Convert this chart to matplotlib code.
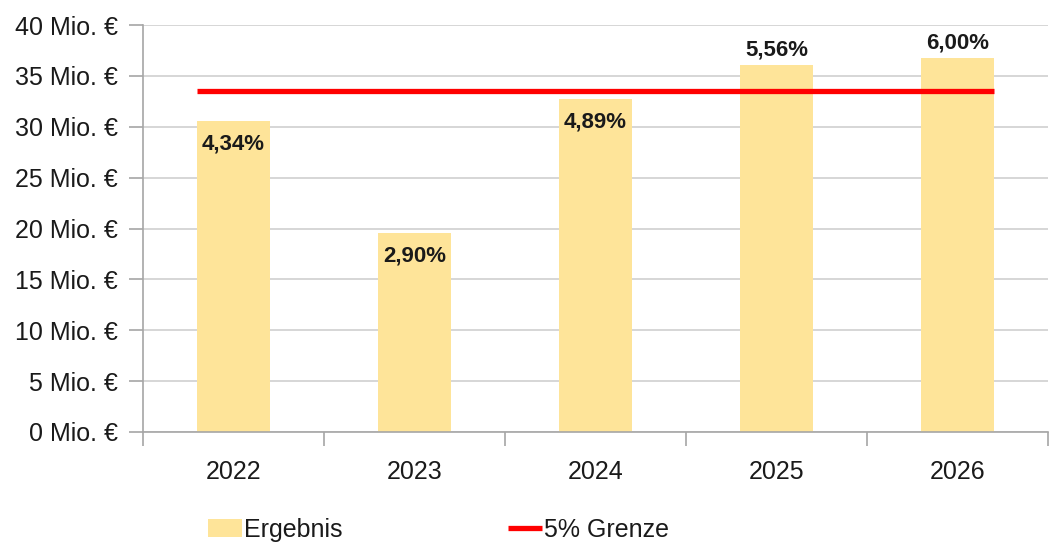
import matplotlib
matplotlib.use("Agg")
import matplotlib.pyplot as plt
from matplotlib import font_manager
import numpy as np

years = ["2022", "2023", "2024", "2025", "2026"]
ergebnis = [30.6, 19.6, 32.7, 36.1, 36.8]  # Mio. €
quoten = ["4,34%", "2,90%", "4,89%", "5,56%", "6,00%"]
label_inside = [True, True, True, False, False]
grenze = 33.5
yticks = [0, 5, 10, 15, 20, 25, 30, 35, 40]

installed = {f.name for f in font_manager.fontManager.ttflist}
narrow = "Liberation Sans Narrow" if "Liberation Sans Narrow" in installed else "Liberation Sans"

plt.rcParams["font.family"] = ["Liberation Sans", "DejaVu Sans"]
txt = "#1a1a1a"
grau = "#a6a6a6"

fig = plt.figure(figsize=(10.62, 5.46), dpi=100)
ax = fig.add_axes([0.1347, 0.2088, 0.8523, 0.7454])

x = np.arange(len(years))
bars = ax.bar(x, ergebnis, width=0.4, color="#fee499", zorder=2, label="Ergebnis")
line, = ax.plot([x[0] - 0.2, x[-1] + 0.2], [grenze, grenze], color="#ff0000", lw=3.8,
                zorder=3, solid_capstyle="butt", label="5% Grenze")

for xi, v, q, inside in zip(x, ergebnis, quoten, label_inside):
    if inside:
        ax.annotate(q, (xi, v), xytext=(0, -9), textcoords="offset points",
                    ha="center", va="top", fontsize=16, fontweight="bold",
                    family=[narrow, "DejaVu Sans"], color=txt, zorder=4)
    else:
        ax.annotate(q, (xi, v), xytext=(0, 3), textcoords="offset points",
                    ha="center", va="bottom", fontsize=16, fontweight="bold",
                    family=[narrow, "DejaVu Sans"], color=txt, zorder=4)

ax.set_xlim(-0.5, len(years) - 0.5)
ax.set_ylim(0, 40)
ax.set_yticks(yticks)
ax.set_yticklabels([f"{t} Mio. €" for t in yticks], fontsize=18, color=txt)
ax.yaxis.grid(True, color="#cfcfcf", lw=1.2, zorder=0)
ax.set_axisbelow(True)

ax.set_xticks(x)
ax.set_xticklabels(years, fontsize=18, color=txt)
ax.tick_params(axis="x", length=0, pad=20)
ax.set_xticks(np.arange(-0.5, len(years)), minor=True)
ax.tick_params(axis="x", which="minor", length=10, color=grau, width=1.2)
ax.tick_params(axis="y", length=10, color=grau, width=1.2, pad=8)

for s in ["top", "right"]:
    ax.spines[s].set_visible(False)
for s in ["left", "bottom"]:
    ax.spines[s].set_color(grau)
    ax.spines[s].set_linewidth(1.2)

fig.legend([bars, line], ["Ergebnis", "5% Grenze"], loc="center left",
           bbox_to_anchor=(0.196, 0.03), ncol=2, frameon=False,
           fontsize=18, handlelength=1.35, handletextpad=0.1, columnspacing=6.6,
           borderpad=0, borderaxespad=0, labelcolor=txt)

fig.savefig("out.png", dpi=100)
